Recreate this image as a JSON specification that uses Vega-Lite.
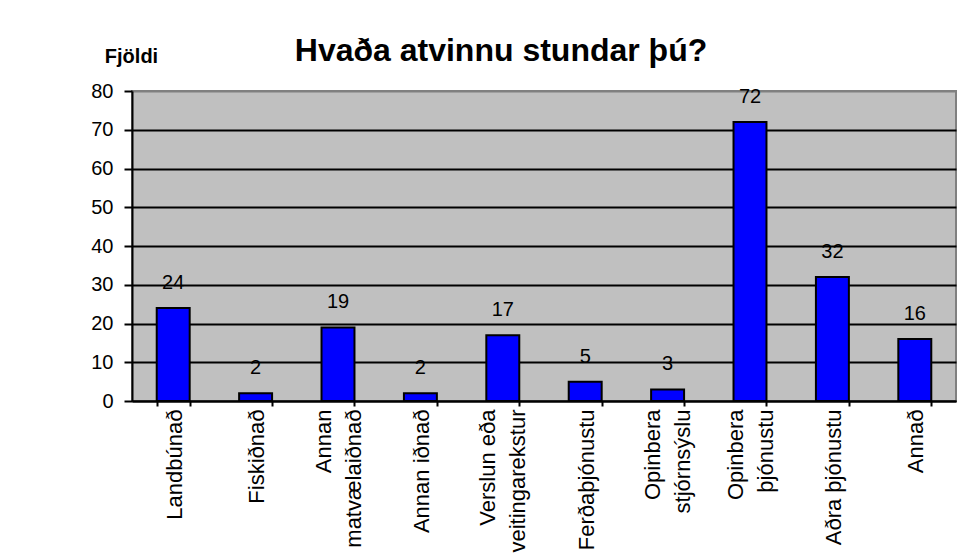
{
  "$schema": "https://vega.github.io/schema/vega-lite/v6.json",
  "autosize": "none",
  "width": 824,
  "height": 310,
  "padding": {"left": 132, "top": 91, "right": 3, "bottom": 152},
  "background": "white",
  "title": {
    "text": "Hvaða atvinnu stundar þú?",
    "fontSize": 32,
    "fontWeight": "bold",
    "font": "Liberation Sans",
    "color": "black",
    "anchor": "middle",
    "dx": -43,
    "dy": 26
  },
  "data": {
    "values": [
      {"atvinna": "Landbúnað", "fjoldi": 24},
      {"atvinna": "Fiskiðnað", "fjoldi": 2},
      {"atvinna": "Annan\nmatvælaiðnað", "fjoldi": 19},
      {"atvinna": "Annan iðnað", "fjoldi": 2},
      {"atvinna": "Verslun eða\nveitingarekstur", "fjoldi": 17},
      {"atvinna": "Ferðaþjónustu", "fjoldi": 5},
      {"atvinna": "Opinbera\nstjórnsýslu", "fjoldi": 3},
      {"atvinna": "Opinbera\nþjónustu", "fjoldi": 72},
      {"atvinna": "Aðra þjónustu", "fjoldi": 32},
      {"atvinna": "Annað", "fjoldi": 16}
    ]
  },
  "encoding": {
    "x": {
      "field": "atvinna",
      "type": "nominal",
      "sort": null,
      "scale": {"paddingInner": 0.6, "paddingOuter": 0.3},
      "axis": {
        "title": null,
        "labelAngle": -90,
        "labelFontSize": 22,
        "labelFont": "Liberation Sans",
        "labelColor": "black",
        "labelLineHeight": 30,
        "labelExpr": "split(datum.label, '\\n')",
        "labelOffset": {"condition": {"test": "indexof(datum.label, '\\n') >= 0", "value": -15}, "value": 1},
        "labelPadding": 3,
        "labelLimit": 400,
        "labelOverlap": false,
        "tickSize": 5,
        "tickColor": "black",
        "tickWidth": 2,
        "tickBand": "extent",
        "domainColor": "black",
        "domainWidth": 2,
        "grid": false
      }
    },
    "y": {
      "field": "fjoldi",
      "type": "quantitative",
      "scale": {"domain": [0, 80], "nice": false},
      "axis": {
        "title": "Fjöldi",
        "titleAngle": 0,
        "titleX": -1,
        "titleY": -29,
        "titleAlign": "center",
        "titleBaseline": "alphabetic",
        "titleFontSize": 20,
        "titleFontWeight": "bold",
        "titleFont": "Liberation Sans",
        "titleColor": "black",
        "values": [0, 10, 20, 30, 40, 50, 60, 70, 80],
        "labelFontSize": 20,
        "labelFont": "Liberation Sans",
        "labelColor": "black",
        "labelPadding": 11,
        "tickSize": 8,
        "tickColor": "black",
        "tickWidth": 2,
        "domainColor": "black",
        "domainWidth": 2,
        "grid": true,
        "gridColor": {"condition": {"test": "datum.value === 80", "value": "#808080"}, "value": "black"},
        "gridWidth": 2
      }
    }
  },
  "layer": [
    {
      "mark": {"type": "bar", "fill": "#0000FF", "stroke": "black", "strokeWidth": 2}
    },
    {
      "mark": {"type": "text", "baseline": "alphabetic", "dy": -19, "fontSize": 20, "font": "Liberation Sans", "color": "black"},
      "encoding": {"text": {"field": "fjoldi", "type": "quantitative"}}
    }
  ],
  "config": {
    "view": {"fill": "#C0C0C0", "stroke": "#808080", "strokeWidth": 2}
  }
}
